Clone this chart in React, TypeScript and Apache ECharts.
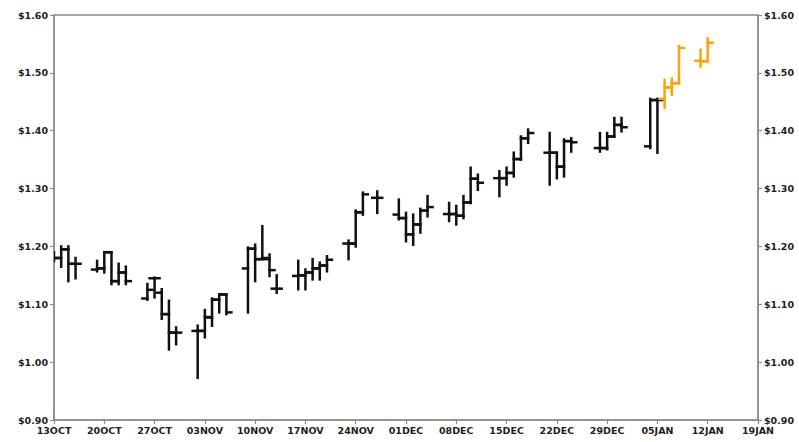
import React, { useEffect, useRef } from "react";
import * as echarts from "echarts";

// Weekly tick labels (Mondays, 7 calendar days apart)
const weekLabels = [
  "13OCT", "20OCT", "27OCT", "03NOV", "10NOV", "17NOV", "24NOV", "01DEC",
  "08DEC", "15DEC", "22DEC", "29DEC", "05JAN", "12JAN", "19JAN",
];

const startDate = "2003-10-13";
// bars are drawn one day to the left of their date, as in the reference
const barShiftDays = -1;

const dates = [
  "2003-10-14", "2003-10-15", "2003-10-16", "2003-10-17",
  "2003-10-20", "2003-10-21", "2003-10-22", "2003-10-23", "2003-10-24",
  "2003-10-27", "2003-10-28", "2003-10-29", "2003-10-30", "2003-10-31",
  "2003-11-03", "2003-11-04", "2003-11-05", "2003-11-06", "2003-11-07",
  "2003-11-10", "2003-11-11", "2003-11-12", "2003-11-13", "2003-11-14",
  "2003-11-17", "2003-11-18", "2003-11-19", "2003-11-20", "2003-11-21",
  "2003-11-24", "2003-11-25", "2003-11-26", "2003-11-28",
  "2003-12-01", "2003-12-02", "2003-12-03", "2003-12-04", "2003-12-05",
  "2003-12-08", "2003-12-09", "2003-12-10", "2003-12-11", "2003-12-12",
  "2003-12-15", "2003-12-16", "2003-12-17", "2003-12-18", "2003-12-19",
  "2003-12-22", "2003-12-23", "2003-12-24", "2003-12-25",
  "2003-12-29", "2003-12-30", "2003-12-31", "2004-01-01",
  "2004-01-05", "2004-01-06", "2004-01-07", "2004-01-08", "2004-01-09",
  "2004-01-12", "2004-01-13",
];

const open = [
  1.18, 1.18, 1.195, 1.17,
  1.16, 1.162, 1.19, 1.14, 1.155,
  1.11, 1.145, 1.12, 1.083, 1.051,
  1.054, 1.054, 1.077, 1.108, 1.117,
  1.162, 1.196, 1.178, 1.178, 1.127,
  1.149, 1.15, 1.155, 1.162, 1.167,
  1.205, 1.205, 1.259, 1.284,
  1.255, 1.249, 1.221, 1.238, 1.262,
  1.256, 1.256, 1.253, 1.276, 1.317,
  1.318, 1.318, 1.327, 1.351, 1.387,
  1.362, 1.362, 1.338, 1.382,
  1.37, 1.37, 1.39, 1.41,
  1.373, 1.453, 1.455, 1.475, 1.482,
  1.521, 1.52,
];

const high = [
  1.19, 1.2, 1.2, 1.18,
  1.175, 1.19, 1.19, 1.17, 1.165,
  1.135, 1.146, 1.126, 1.106, 1.06,
  1.063, 1.09, 1.11, 1.117, 1.117,
  1.198, 1.203, 1.235, 1.186, 1.15,
  1.175, 1.16, 1.178, 1.172, 1.183,
  1.21, 1.262, 1.293, 1.295,
  1.281, 1.258, 1.255, 1.265, 1.287,
  1.275, 1.27, 1.287, 1.336, 1.324,
  1.33, 1.336, 1.362, 1.39, 1.402,
  1.396, 1.362, 1.385, 1.387,
  1.396, 1.396, 1.422, 1.422,
  1.455, 1.455, 1.488, 1.49, 1.546,
  1.54, 1.56,
];

const low = [
  1.175, 1.165, 1.14, 1.145,
  1.157, 1.155, 1.135, 1.135, 1.135,
  1.108, 1.112, 1.075, 1.022, 1.031,
  0.973, 1.043, 1.063, 1.086, 1.083,
  1.086, 1.14, 1.178, 1.149, 1.12,
  1.126, 1.126, 1.143, 1.143, 1.157,
  1.178, 1.2, 1.255, 1.258,
  1.247, 1.209, 1.203, 1.224, 1.252,
  1.244, 1.238, 1.249, 1.275, 1.298,
  1.287, 1.307, 1.321, 1.35, 1.379,
  1.307, 1.318, 1.321, 1.364,
  1.364, 1.368, 1.39, 1.399,
  1.37, 1.362, 1.44, 1.462, 1.482,
  1.511, 1.52,
];

const close = [
  1.18, 1.195, 1.17, 1.17,
  1.162, 1.19, 1.14, 1.155, 1.14,
  1.125, 1.145, 1.083, 1.051, 1.051,
  1.054, 1.078, 1.108, 1.117, 1.086,
  1.196, 1.178, 1.18, 1.159, 1.127,
  1.15, 1.155, 1.162, 1.167, 1.177,
  1.205, 1.259, 1.29, 1.284,
  1.249, 1.221, 1.238, 1.262, 1.268,
  1.256, 1.253, 1.276, 1.317, 1.31,
  1.318, 1.327, 1.351, 1.387, 1.396,
  1.362, 1.338, 1.382, 1.38,
  1.37, 1.39, 1.41, 1.406,
  1.453, 1.453, 1.475, 1.482, 1.543,
  1.52, 1.552,
];

// bars from this date on are drawn in orange
const highlightFrom = "2004-01-07";

const yTicks = { min: 0.9, max: 1.6, interval: 0.1 };

const AXIS_COLOR = "#8c8c8c";
const TEXT_COLOR = "#1e1e1e";
const BAR_COLOR = "#111111";
const HIGHLIGHT_COLOR = "#ffa20a";

function dayOffset(d: string): number {
  const t = Date.parse(d + "T00:00:00Z");
  const s = Date.parse(startDate + "T00:00:00Z");
  return Math.round((t - s) / 86400000);
}

export default function App() {
  const ref = useRef<HTMLDivElement>(null);

  useEffect(() => {
    if (!ref.current) return;
    const chart = echarts.init(ref.current, undefined, { renderer: "svg" });

    const normal: number[][] = [];
    const highlighted: number[][] = [];
    const hl = dayOffset(highlightFrom);
    dates.forEach((d, i) => {
      const off = dayOffset(d);
      const row = [off + barShiftDays, open[i], high[i], low[i], close[i]];
      if (off >= hl) highlighted.push(row);
      else normal.push(row);
    });

    const makeRender = (color: string) => (params: any, api: any) => {
      const x = api.value(0);
      const pO = api.coord([x, api.value(1)]);
      const pH = api.coord([x, api.value(2)]);
      const pL = api.coord([x, api.value(3)]);
      const pC = api.coord([x, api.value(4)]);
      const w = 5;
      const style = { stroke: color, lineWidth: 2.5, lineCap: "square" };
      return {
        type: "group",
        children: [
          { type: "line", shape: { x1: pH[0], y1: pH[1], x2: pL[0], y2: pL[1] }, style },
          { type: "line", shape: { x1: pO[0] - w, y1: pO[1], x2: pO[0], y2: pO[1] }, style },
          { type: "line", shape: { x1: pC[0], y1: pC[1], x2: pC[0] + w, y2: pC[1] }, style },
        ],
      };
    };

    const labelFont = {
      fontFamily: "DejaVu Sans",
      fontSize: 9.5,
      fontWeight: "bold" as const,
      color: TEXT_COLOR,
    };

    const yAxisBase = {
      type: "value" as const,
      min: yTicks.min,
      max: yTicks.max,
      interval: yTicks.interval,
      splitLine: { show: false },
      axisLine: { show: true, lineStyle: { color: AXIS_COLOR, width: 1.5 } },
      axisTick: { show: true, length: 4, lineStyle: { color: AXIS_COLOR, width: 1.2 } },
      axisLabel: {
        ...labelFont,
        margin: 6,
        formatter: (v: number) => "$" + v.toFixed(2),
      },
    };

    chart.setOption({
      animation: false,
      backgroundColor: "#ffffff",
      grid: {
        left: 54,
        right: 41,
        top: 15,
        bottom: 22,
        show: true,
        borderColor: AXIS_COLOR,
        borderWidth: 1.5,
        backgroundColor: "transparent",
      },
      xAxis: {
        type: "value",
        min: 0,
        max: (weekLabels.length - 1) * 7,
        interval: 7,
        splitLine: { show: false },
        axisLine: { show: true, onZero: false, lineStyle: { color: AXIS_COLOR, width: 1.5 } },
        axisTick: { show: true, length: 4, lineStyle: { color: AXIS_COLOR, width: 1.2 } },
        axisLabel: {
          ...labelFont,
          margin: 5,
          showMinLabel: true,
          showMaxLabel: true,
          formatter: (v: number) => weekLabels[Math.round(v / 7)] ?? "",
        },
      },
      yAxis: [
        { ...yAxisBase, position: "left" },
        { ...yAxisBase, position: "right" },
      ],
      series: [
        {
          type: "custom",
          name: "price",
          renderItem: makeRender(BAR_COLOR),
          encode: { x: 0, y: [1, 2, 3, 4] },
          data: normal,
          clip: true,
        },
        {
          type: "custom",
          name: "highlight",
          renderItem: makeRender(HIGHLIGHT_COLOR),
          encode: { x: 0, y: [1, 2, 3, 4] },
          data: highlighted,
          clip: true,
        },
      ],
    });

    return () => chart.dispose();
  }, []);

  return (
    <div
      ref={ref}
      style={{ position: "fixed", left: 0, top: 0, width: 799, height: 442, background: "#fff" }}
    />
  );
}
